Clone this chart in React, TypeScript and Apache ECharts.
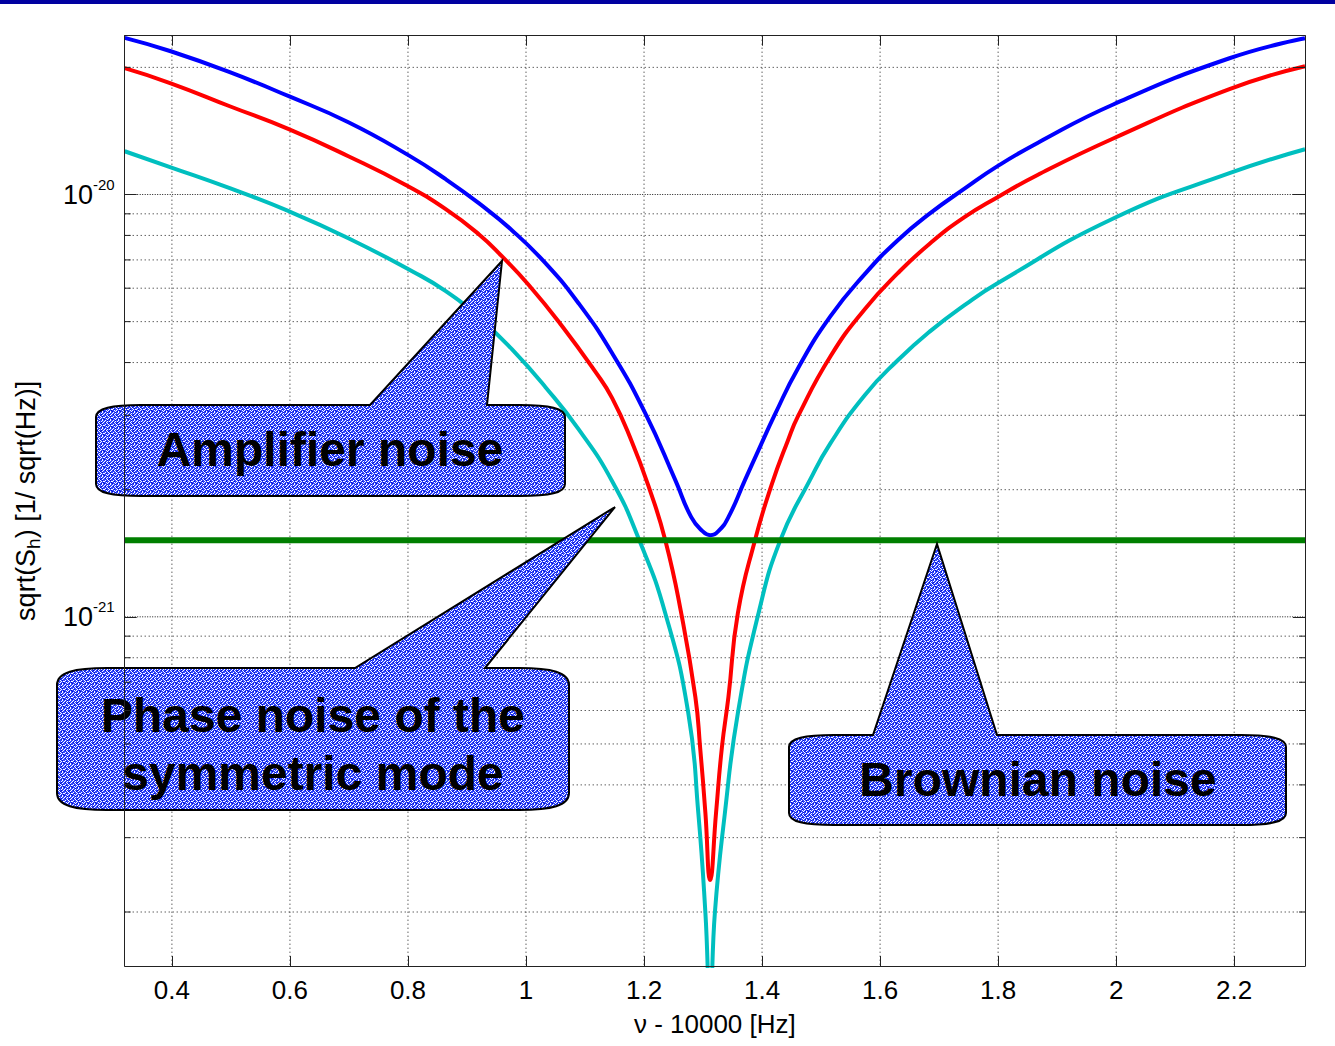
import React, { useEffect, useRef } from "react";
import * as echarts from "echarts";

// ---- axis ranges ----
const X_MIN = 0.32;
const X_MAX = 2.32;
const Y_MIN = 1.49e-22;
const Y_MAX = 2.377e-20;

// ---- tick / grid values ----
const xTickValues = [0.4, 0.6, 0.8, 1.0, 1.2, 1.4, 1.6, 1.8, 2.0, 2.2];
const yMajorValues = [1e-21, 1e-20];
const yMinorValues = [
  2e-22, 3e-22, 4e-22, 5e-22, 6e-22, 7e-22, 8e-22, 9e-22,
  2e-21, 3e-21, 4e-21, 5e-21, 6e-21, 7e-21, 8e-21, 9e-21,
  2e-20,
];

// ---- series: total (blue) ----
const blueX = [0.32, 0.398, 0.498, 0.598, 0.699, 0.802, 0.864, 0.92, 0.976, 1.033, 1.089, 1.146, 1.202, 1.253, 1.28, 1.299, 1.312, 1.326, 1.343, 1.371, 1.394, 1.422, 1.461, 1.516, 1.574, 1.63, 1.685, 1.743, 1.799, 1.866, 1.996, 2.192, 2.32];
const blueY = [2.349e-20, 2.184e-20, 1.948e-20, 1.709e-20, 1.483e-20, 1.236e-20, 1.087e-20, 9.537e-21, 8.232e-21, 6.877e-21, 5.529e-21, 4.209e-21, 3.035e-21, 2.107e-21, 1.722e-21, 1.596e-21, 1.561e-21, 1.596e-21, 1.722e-21, 2.107e-21, 2.481e-21, 3.019e-21, 3.879e-21, 5.151e-21, 6.477e-21, 7.795e-21, 9.031e-21, 1.032e-20, 1.167e-20, 1.323e-20, 1.636e-20, 2.102e-20, 2.344e-20];

// ---- series: amplifier noise (red) ----
const redX = [0.32, 0.398, 0.498, 0.598, 0.699, 0.797, 0.864, 0.92, 0.959, 1.005, 1.06, 1.118, 1.146, 1.179, 1.207, 1.236, 1.263, 1.287, 1.295, 1.304, 1.312, 1.322, 1.332, 1.343, 1.359, 1.388, 1.416, 1.444, 1.461, 1.516, 1.574, 1.63, 1.685, 1.743, 1.799, 1.866, 1.996, 2.192, 2.32];
const redY = [1.991e-20, 1.834e-20, 1.618e-20, 1.428e-20, 1.232e-20, 1.052e-20, 9.23e-21, 8.054e-21, 7.144e-21, 6.099e-21, 4.904e-21, 3.795e-21, 3.295e-21, 2.606e-21, 2.05e-21, 1.519e-21, 1.02e-21, 6.455e-22, 4.915e-22, 3.429e-22, 2.38e-22, 3.429e-22, 4.915e-22, 6.455e-22, 1.02e-21, 1.519e-21, 2.05e-21, 2.62e-21, 2.986e-21, 4.14e-21, 5.351e-21, 6.512e-21, 7.668e-21, 8.837e-21, 9.854e-21, 1.111e-20, 1.359e-20, 1.776e-20, 2.013e-20];

// ---- series: phase noise of the symmetric mode (cyan) ----
const cyanX = [0.32, 0.398, 0.498, 0.598, 0.699, 0.807, 0.864, 0.92, 0.976, 1.033, 1.089, 1.146, 1.191, 1.236, 1.275, 1.292, 1.304, 1.312, 1.32, 1.337, 1.359, 1.394, 1.431, 1.481, 1.516, 1.574, 1.63, 1.685, 1.743, 1.799, 1.996, 2.192, 2.32];
const cyanY = [1.266e-20, 1.16e-20, 1.035e-20, 9.129e-21, 7.88e-21, 6.583e-21, 5.903e-21, 5.123e-21, 4.302e-21, 3.498e-21, 2.782e-21, 2.095e-21, 1.53e-21, 1.02e-21, 5.916e-22, 3.429e-22, 1.988e-22, 1.2e-22, 1.988e-22, 3.429e-22, 5.916e-22, 1.02e-21, 1.519e-21, 2.107e-21, 2.578e-21, 3.349e-21, 4.051e-21, 4.747e-21, 5.469e-21, 6.166e-21, 8.788e-21, 1.123e-20, 1.28e-20];

// ---- series: Brownian noise (green) ----
const greenX = [0.32, 2.32];
const greenY = [1.519e-21, 1.519e-21];

// ---- texts ----
const xAxisName = "\u03bd - 10000 [Hz]";
const calloutAmpText = "Amplifier noise";
const calloutPhaseText = "Phase noise of the\nsymmetric mode";
const calloutBrownText = "Brownian noise";

// hand-made stipple tile for the callout fill (b = blue, w = white, d = dark blue)
const TEXTURE = [
  "bwbbwbdb",
  "wbdbbwbw",
  "bbwbwbbd",
  "dbbwbdwb",
  "bwbdbbwb",
  "wbbwbwbb",
  "bdwbbdbw",
  "bbbwdbwb",
];

const FONT = '"Liberation Sans", Arial, Helvetica, sans-serif';

function zip(xs: number[], ys: number[]) {
  return xs.map((x, i) => [x, ys[i]]);
}

function calloutPath(
  x0: number, x1: number, yT: number, yB: number, cw: number, ch: number,
  b1: number, b2: number, tx: number, ty: number
) {
  return [
    `M${x0},${yT + ch}`,
    `C${x0},${yT + ch * 0.25} ${x0 + cw * 0.35},${yT} ${x0 + cw},${yT}`,
    `L${b1},${yT}`,
    `L${tx},${ty}`,
    `L${b2},${yT}`,
    `L${x1 - cw},${yT}`,
    `C${x1 - cw * 0.35},${yT} ${x1},${yT + ch * 0.25} ${x1},${yT + ch}`,
    `L${x1},${yB - ch}`,
    `C${x1},${yB - ch * 0.25} ${x1 - cw * 0.35},${yB} ${x1 - cw},${yB}`,
    `L${x0 + cw},${yB}`,
    `C${x0 + cw * 0.35},${yB} ${x0},${yB - ch * 0.25} ${x0},${yB - ch}`,
    "Z",
  ].join(" ");
}

function makeTexture(): string {
  const c = document.createElement("canvas");
  c.width = 8;
  c.height = 8;
  const ctx = c.getContext("2d");
  if (!ctx) return "";
  const colors: Record<string, string> = { b: "#3348ff", w: "#ffffff", d: "#0010c8" };
  for (let r = 0; r < 8; r++) {
    for (let k = 0; k < 8; k++) {
      ctx.fillStyle = colors[TEXTURE[r][k]];
      ctx.fillRect(k, r, 1, 1);
    }
  }
  return c.toDataURL();
}

export default function App() {
  const ref = useRef<HTMLDivElement>(null);

  useEffect(() => {
    document.body.style.margin = "0";
    if (!ref.current) return;

    echarts.graphic.registerShape(
      "calloutAmp",
      echarts.graphic.extendPath(calloutPath(96, 565, 405, 496, 45, 12, 370, 487, 502, 261), {})
    );
    echarts.graphic.registerShape(
      "calloutPhase",
      echarts.graphic.extendPath(calloutPath(57, 569, 668, 810, 50, 17, 355, 485, 615, 507), {})
    );
    echarts.graphic.registerShape(
      "calloutBrown",
      echarts.graphic.extendPath(calloutPath(789, 1286, 735, 825, 45, 12, 873, 997, 937, 544), {})
    );

    const tex = makeTexture();
    const fillPattern: any = tex
      ? { image: tex, repeat: "repeat", imageWidth: 8, imageHeight: 8 }
      : "#6c78f2";

    const chart = echarts.init(ref.current, null, { renderer: "svg" });

    const isPow10 = (v: number) => {
      const e = Math.log10(v);
      return Math.abs(e - Math.round(e)) < 1e-6;
    };

    const gridLine = (dash: number[], color: string, vertical: boolean) =>
      (params: any, api: any) => {
        const p = api.coord([api.value(0), api.value(1)]);
        const cs = params.coordSys;
        const shape = vertical
          ? { x1: p[0], y1: cs.y, x2: p[0], y2: cs.y + cs.height }
          : { x1: cs.x, y1: p[1], x2: cs.x + cs.width, y2: p[1] };
        return {
          type: "line",
          shape,
          style: { stroke: color, lineWidth: 1, lineDash: dash },
        };
      };

    const minorTicks = (params: any, api: any) => {
      const p = api.coord([api.value(0), api.value(1)]);
      const cs = params.coordSys;
      return {
        type: "group",
        children: [
          { type: "line", shape: { x1: cs.x, y1: p[1], x2: cs.x + 6, y2: p[1] }, style: { stroke: "#222", lineWidth: 1 } },
          { type: "line", shape: { x1: cs.x + cs.width - 6, y1: p[1], x2: cs.x + cs.width, y2: p[1] }, style: { stroke: "#222", lineWidth: 1 } },
        ],
      };
    };

    const axisLine = { show: true, onZero: false, lineStyle: { color: "#222", width: 1 } };

    const lineSeries = (name: string, xs: number[], ys: number[], color: string) => ({
      type: "line",
      name,
      data: zip(xs, ys),
      symbol: "none",
      smooth: 0.5,
      clip: true,
      z: 3,
      lineStyle: { color, width: 4 },
    });

    const calloutText = (text: string, x: number, y: number) => ({
      type: "text",
      z: 6,
      style: {
        text, x, y, fill: "#000", lineHeight: 58,
        font: `bold 48px ${FONT}`, align: "center", verticalAlign: "middle",
        textAlign: "center", textVerticalAlign: "middle",
      },
    });

    const option: any = {
      animation: false,
      backgroundColor: "#ffffff",
      grid: { left: 124.7, top: 35.7, right: 30, bottom: 80 },
      xAxis: [
        {
          type: "value",
          min: X_MIN,
          max: X_MAX,
          splitNumber: 10,
          position: "bottom",
          z: 10,
          axisLine,
          axisTick: { show: true, inside: true, length: 10, lineStyle: { color: "#222" } },
          splitLine: { show: false },
          axisLabel: {
            show: true,
            margin: 11,
            fontSize: 26,
            fontFamily: FONT,
            color: "#000",
            showMinLabel: false,
            showMaxLabel: false,
            formatter: (v: number) => {
              const r = Math.round(v * 5) / 5;
              if (Math.abs(v - r) > 1e-6) return "";
              return String(parseFloat(v.toFixed(1)));
            },
          },
          name: xAxisName,
          nameLocation: "middle",
          nameGap: 45,
          nameTextStyle: { fontSize: 26, fontFamily: FONT, color: "#000" },
        },
        {
          type: "value",
          min: X_MIN,
          max: X_MAX,
          splitNumber: 10,
          position: "top",
          z: 10,
          axisLine,
          axisTick: { show: true, inside: true, length: 10, lineStyle: { color: "#222" } },
          splitLine: { show: false },
          axisLabel: { show: false },
        },
      ],
      yAxis: [
        {
          type: "log",
          logBase: 10,
          min: Y_MIN,
          max: Y_MAX,
          position: "left",
          z: 10,
          axisLine,
          axisTick: { show: true, inside: true, length: 12, lineStyle: { color: "#222" } },
          splitLine: { show: false },
          minorTick: { show: false },
          axisLabel: {
            show: true,
            margin: 10,
            color: "#000",
            showMinLabel: false,
            showMaxLabel: false,
            formatter: (v: number) => {
              if (!isPow10(v)) return "";
              return `{b|10}{s|${Math.round(Math.log10(v))}}`;
            },
            rich: {
              b: { fontSize: 27, fontFamily: FONT, color: "#000", lineHeight: 36, verticalAlign: "middle" },
              s: { fontSize: 15, fontFamily: FONT, color: "#000", lineHeight: 15, verticalAlign: "top" },
            },
          },
          name: "{n|sqrt(S}{sub|h}{n|) [1/ sqrt(Hz)]}",
          nameLocation: "middle",
          nameGap: 82,
          nameTextStyle: {
            rich: {
              n: { fontSize: 27, fontFamily: FONT, color: "#000", lineHeight: 34, verticalAlign: "middle" },
              sub: { fontSize: 19, fontFamily: FONT, color: "#000", lineHeight: 19, verticalAlign: "bottom" },
            },
          },
        },
        {
          type: "log",
          logBase: 10,
          min: Y_MIN,
          max: Y_MAX,
          position: "right",
          z: 10,
          axisLine,
          axisTick: { show: true, inside: true, length: 12, lineStyle: { color: "#222" } },
          splitLine: { show: false },
          axisLabel: { show: false },
        },
      ],
      series: [
        {
          type: "custom",
          name: "xgrid",
          silent: true,
          z: 1,
          data: xTickValues.map((v) => [v, Y_MIN]),
          renderItem: gridLine([1, 3], "#1a1a1a", true),
        },
        {
          type: "custom",
          name: "ymajorgrid",
          silent: true,
          z: 1,
          data: yMajorValues.map((v) => [X_MIN, v]),
          renderItem: gridLine([1, 1.5], "#1a1a1a", false),
        },
        {
          type: "custom",
          name: "yminorgrid",
          silent: true,
          z: 1,
          data: yMinorValues.map((v) => [X_MIN, v]),
          renderItem: gridLine([1, 3], "#1a1a1a", false),
        },
        {
          type: "custom",
          name: "yminorticks",
          silent: true,
          z: 11,
          data: yMinorValues.map((v) => [X_MIN, v]),
          renderItem: minorTicks,
        },
        lineSeries("total", blueX, blueY, "#0000ff"),
        lineSeries("amplifier", redX, redY, "#ff0000"),
        lineSeries("phase", cyanX, cyanY, "#00bfbf"),
        {
          type: "line",
          name: "brownian",
          data: zip(greenX, greenY),
          symbol: "none",
          clip: true,
          z: 4,
          lineStyle: { color: "#007f00", width: 6 },
        },
      ],
      graphic: [
        { type: "rect", z: 20, shape: { x: 0, y: 0, width: 1335, height: 4 }, style: { fill: "#0000a0" } },
        { type: "calloutAmp", z: 5, x: 0, y: 0, style: { fill: fillPattern, stroke: "#000", lineWidth: 2 } },
        { type: "calloutPhase", z: 5, x: 0, y: 0, style: { fill: fillPattern, stroke: "#000", lineWidth: 2 } },
        { type: "calloutBrown", z: 5, x: 0, y: 0, style: { fill: fillPattern, stroke: "#000", lineWidth: 2 } },
        calloutText(calloutAmpText, 330, 449),
        calloutText(calloutPhaseText, 313, 744),
        calloutText(calloutBrownText, 1038, 779),
      ],
    };

    chart.setOption(option);
    return () => {
      chart.dispose();
    };
  }, []);

  return <div ref={ref} style={{ width: 1335, height: 1046 }} />;
}
